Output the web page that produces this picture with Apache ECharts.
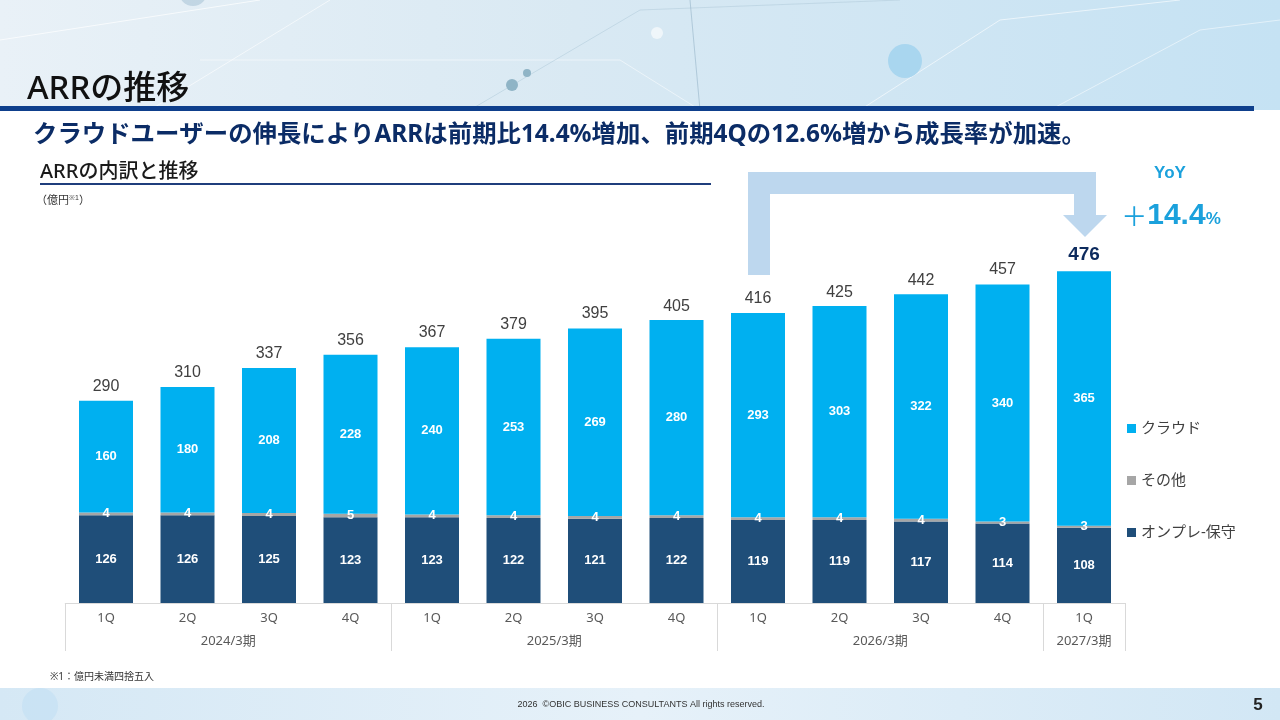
<!DOCTYPE html>
<html>
<head>
<meta charset="utf-8">
<script src="https://cdn.jsdelivr.net/npm/echarts@6.0.0/dist/echarts.min.js"></script>
<style>
html,body{margin:0;padding:0;background:#fff;}
#main{width:1280px;height:720px;}
</style>
</head>
<body>
<div id="main"></div>
<script>
// 四半期
var quarters = ['1Q','2Q','3Q','4Q','1Q','2Q','3Q','4Q','1Q','2Q','3Q','4Q','1Q'];
var yearLabels = ['2024/3期','2025/3期','2026/3期','2027/3期'];
var yearCenters = [2, 6, 10, 12.5];   // 期ラベルの位置(カテゴリ単位)
var yearBounds = [0, 4, 8, 12, 13];   // 区切り線

// 億円
var onpre = [126,126,125,123,123,122,121,122,119,119,117,114,108];
var other = [4,4,4,5,4,4,4,4,4,4,4,3,3];
var cloud = [160,180,208,228,240,253,269,280,293,303,322,340,365];
var totals = [290,310,337,356,367,379,395,405,416,425,442,457,476];

var JP = '"Noto Sans", "Noto Sans CJK JP", sans-serif';
var AR = '"Liberation Sans", Arial, sans-serif';
var innerLabel = {show:true, position:'inside', color:'#fff', fontWeight:'bold', fontSize:13, fontFamily:AR};

var chart = echarts.init(document.getElementById('main'));

var totalData = totals.map(function(v,i){
  if(i === totals.length-1){
    return {value:v, label:{fontSize:19, fontWeight:'bold', color:'#0d2b5e'}};
  }
  return v;
});

var option = {
  animation:false,
  graphic:[
    // header
    {type:'rect', z:-10, shape:{x:0,y:0,width:1280,height:110},
      style:{fill:{type:'linear',x:0,y:0,x2:1,y2:0,colorStops:[
        {offset:0,color:'#e9f1f7'},{offset:0.45,color:'#d9e9f3'},{offset:1,color:'#c5e2f3'}]}}},
    {type:'polyline', z:-9, shape:{points:[[0,40],[260,0]]}, style:{stroke:'rgba(255,255,255,0.7)',lineWidth:1}},
    {type:'polyline', z:-9, shape:{points:[[150,110],[330,0]]}, style:{stroke:'rgba(255,255,255,0.6)',lineWidth:1}},
    {type:'polyline', z:-9, shape:{points:[[200,60],[620,60],[700,110]]}, style:{stroke:'rgba(255,255,255,0.5)',lineWidth:1}},
    {type:'polyline', z:-9, shape:{points:[[470,110],[640,10],[900,0]]}, style:{stroke:'rgba(180,205,220,0.6)',lineWidth:1}},
    {type:'polyline', z:-9, shape:{points:[[690,0],[700,110]]}, style:{stroke:'rgba(150,180,200,0.6)',lineWidth:1}},
    {type:'polyline', z:-9, shape:{points:[[860,110],[1000,20],[1180,0]]}, style:{stroke:'rgba(255,255,255,0.6)',lineWidth:1}},
    {type:'polyline', z:-9, shape:{points:[[1050,110],[1200,30],[1280,20]]}, style:{stroke:'rgba(255,255,255,0.5)',lineWidth:1}},
    {type:'circle', z:-8, shape:{cx:193,cy:-8,r:14}, style:{fill:'rgba(160,190,210,0.5)'}},
    {type:'circle', z:-8, shape:{cx:512,cy:85,r:6}, style:{fill:'#8fb4c6'}},
    {type:'circle', z:-8, shape:{cx:527,cy:73,r:4}, style:{fill:'#8fb4c6'}},
    {type:'circle', z:-8, shape:{cx:905,cy:61,r:17}, style:{fill:'#a9d6ef'}},
    {type:'circle', z:-8, shape:{cx:657,cy:33,r:6}, style:{fill:'rgba(255,255,255,0.6)'}},
    {type:'rect', shape:{x:0,y:106,width:1254,height:5}, style:{fill:'#0e3f8c'}},
    {type:'text', style:{text:'ARRの推移', x:27, y:90, font:'500 33px '+JP, fill:'#111', textVerticalAlign:'middle'}},
    {type:'text', style:{text:'クラウドユーザーの伸長によりARRは前期比14.4%増加、前期4Qの12.6%増から成長率が加速。', x:33, y:135, font:'bold 24.4px '+JP, fill:'#0b2c66', textVerticalAlign:'middle'}},
    {type:'text', style:{text:'ARRの内訳と推移', x:40, y:172, font:'500 20px '+JP, fill:'#1a1a1a', textVerticalAlign:'middle'}},
    {type:'rect', shape:{x:40,y:183,width:671,height:2}, style:{fill:'#1f3e7c'}},
    {type:'text', style:{text:'（億円{s|※1}）', x:36, y:201, font:'11px '+JP, fill:'#333', textVerticalAlign:'middle',
      rich:{s:{fontSize:7, verticalAlign:'top', padding:[0,0,6,0], fill:'#333'}}}},
    // YoY arrow
    {type:'polygon', shape:{points:[[748,275],[748,172],[1096,172],[1096,215],[1107,215],[1085,237],[1063,215],[1074,215],[1074,194],[770,194],[770,275]]},
      style:{fill:'#bdd7ee'}},
    {type:'text', style:{text:'YoY', x:1170, y:173, font:'bold 17px '+AR, fill:'#1ba1dc', textAlign:'center', textVerticalAlign:'middle'}},
    {type:'text', style:{text:'{a|＋}{b|14.4}{c|%}', x:1171, y:216, textAlign:'center', textVerticalAlign:'middle',
      rich:{a:{fontSize:26, fill:'#1ba1dc', fontFamily:'"Noto Sans CJK JP", sans-serif'},
            b:{fontSize:30, fontWeight:'bold', fill:'#1ba1dc', fontFamily:AR},
            c:{fontSize:17, fontWeight:'bold', fill:'#1ba1dc', fontFamily:AR, padding:[7,0,0,0]}}}},
    // footer
    {type:'text', style:{text:'※1：億円未満四捨五入', x:50, y:677, font:'10px '+JP, fill:'#333', textVerticalAlign:'middle'}},
    {type:'rect', z:-10, shape:{x:0,y:688,width:1280,height:32},
      style:{fill:{type:'linear',x:0,y:0,x2:1,y2:0,colorStops:[
        {offset:0,color:'#d5e8f5'},{offset:0.5,color:'#e6f1f9'},{offset:1,color:'#d2e7f5'}]}}},
    {type:'circle', z:-9, shape:{cx:40,cy:706,r:18}, style:{fill:'rgba(190,222,244,0.5)'}},
    {type:'text', style:{text:'2026  ©OBIC BUSINESS CONSULTANTS All rights reserved.', x:641, y:705, font:'9px '+AR, fill:'#333', textAlign:'center', textVerticalAlign:'middle'}},
    {type:'text', style:{text:'5', x:1258, y:705, font:'bold 17px '+AR, fill:'#222', textAlign:'center', textVerticalAlign:'middle'}}
  ],
  legend:{
    orient:'vertical', left:1122, top:416, itemWidth:9, itemHeight:9, itemGap:37, icon:'rect',
    data:['クラウド','その他','オンプレ-保守'],
    textStyle:{fontSize:15, color:'#404040', fontFamily:JP},
    selectedMode:false
  },
  grid:{left:65.25, right:155.25, top:254.5, bottom:117, containLabel:false},
  xAxis:[
    {type:'category', data:quarters, position:'bottom',
      axisLine:{show:true, lineStyle:{color:'#d9d9d9', width:1}},
      axisTick:{show:false},
      axisLabel:{color:'#595959', fontSize:13, margin:9, fontFamily:JP}},
    {type:'value', min:0, max:13, position:'bottom',
      axisLine:{show:false},
      splitLine:{show:false},
      axisTick:{show:true, customValues:yearBounds, length:48, lineStyle:{color:'#d9d9d9'}},
      axisLabel:{show:true, customValues:yearCenters, margin:32, color:'#595959', fontSize:13, fontFamily:JP,
        formatter:function(v){ var i = yearCenters.indexOf(v); return i >= 0 ? yearLabels[i] : ''; }}}
  ],
  yAxis:{type:'value', min:0, max:500, show:false, splitLine:{show:false}},
  series:[
    {name:'オンプレ-保守', type:'bar', stack:'arr', data:onpre, barWidth:54, itemStyle:{color:'#1f4e79'}, label:innerLabel},
    {name:'その他', type:'bar', stack:'arr', data:other, barWidth:54, itemStyle:{color:'#a6a6a6'}, label:innerLabel},
    {name:'クラウド', type:'bar', stack:'arr', data:cloud, barWidth:54, itemStyle:{color:'#00b0f0'}, label:innerLabel},
    {name:'合計', type:'line', data:totalData, symbol:'circle', symbolSize:1,
      itemStyle:{color:'transparent'}, lineStyle:{opacity:0}, silent:true, z:10,
      label:{show:true, position:'top', distance:6, color:'#404040', fontSize:16, fontFamily:AR}}
  ]
};
chart.setOption(option);
</script>
</body>
</html>
